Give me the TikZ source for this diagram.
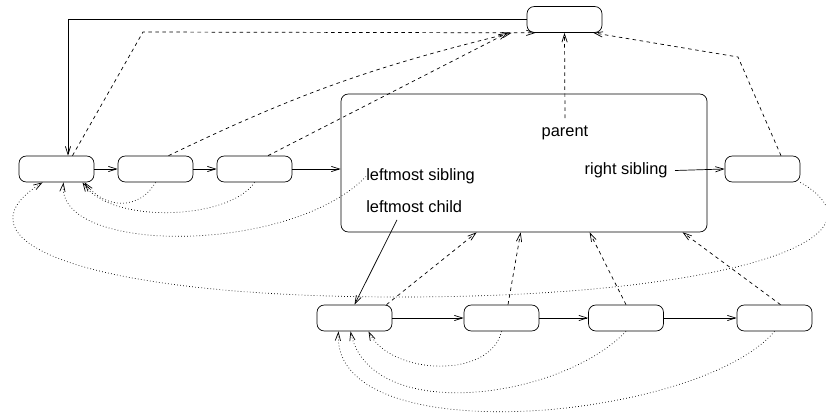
\documentclass[tikz,border=0pt]{standalone}
\usepackage{fontspec}
\setmainfont{Liberation Sans}
\usepackage{tikz}
\usetikzlibrary{arrows.meta, calc}

\tikzset{
  rec/.style={draw, rounded corners=0.22cm, minimum width=2.25cm, minimum height=0.78cm, inner sep=0pt},
  lbl/.style={font=\fontsize{14}{17}\selectfont, inner sep=0pt},
  link/.style={->},
  up/.style={->, dashed},
  back/.style={->, dotted},
}

\begin{document}
\begin{tikzpicture}[x=0.03cm, y=-0.03cm, line width=0.6pt, >={Straight Barb[length=7pt,width=4.5pt]}]
        \useasboundingbox (0,0) rectangle (826,418);

        % ===================================================
        % Boxes
        % ===================================================
        \node[rec] (parentbox) at (564.5,19.5) {};
        \node[rec] (lsib) at (56.5,169) {};
        \node[rec] (sibA) at (155.5,169) {};
        \node[rec] (sibB) at (254.5,169) {};
        \node[draw, rounded corners=0.22cm, minimum width=10.98cm, minimum height=4.14cm] (cur) at (524,163) {};
        \node[rec] (rsib) at (762.5,169) {};
        \node[rec] (lchild) at (354.5,318) {};
        \node[rec] (childA) at (501.5,318) {};
        \node[rec] (childB) at (626,318) {};
        \node[rec] (childC) at (774.5,318) {};

        % ===================================================
        % Field labels inside the current node
        % ===================================================
        \node[lbl] (lparent) at (565,133) {parent};
        \node[lbl, anchor=west] (llsib) at (366,176.5) {leftmost sibling};
        \node[lbl, anchor=west] (llchild) at (366,206.5) {leftmost child};
        \node[lbl, anchor=east] (lrsib) at (668,170.5) {right sibling};

        % ===================================================
        % Solid links
        % ===================================================
        \draw[link] (parentbox.west) -| ($(lsib.north)+(11.5,0)$);
        \draw[link] (lsib) -- (sibA);
        \draw[link] (sibA) -- (sibB);
        \draw[link] (sibB.east) -- (sibB.east -| cur.west);
        \draw[link] ($(lrsib.east)+(7,0)$) -- (rsib.west);
        \draw[link] ($(llchild.south west)+(31,7)$) -- (lchild.north);
        \draw[link] (lchild) -- (childA);
        \draw[link] (childA) -- (childB);
        \draw[link] (childB) -- (childC);

        % ===================================================
        % Parent pointers (dashed)
        % ===================================================
        \coordinate (kneeL) at (143,32);
        \coordinate (kneeR) at (738,57);
        \draw[up] ($(lsib.north)+(16,0)$) -- (kneeL) -- ($(parentbox.south west)+(9,0)$);
        \draw[up] ($(sibA.north)+(13,0)$) to[bend left=6] ($(parentbox.south west)+(-15,0)$);
        \draw[up] ($(sibB.north)+(13.5,0)$) -- ($(parentbox.south west)+(-19,0)$);
        \draw[up] ($(lparent)+(0,-15)$) -- (parentbox.south);
        \draw[up] ($(rsib.north)+(18.5,0)$) -- (kneeR) -- ($(parentbox.south east)+(-9,0)$);

        \draw[up] ($(lchild.north)+(32,0)$) -- ($(cur.south west)+(136,0)$);
        \draw[up] ($(childA.north)+(6.5,0)$) -- ($(cur.south west)+(180,0)$);
        \draw[up] (childB.north) -- ($(cur.south west)+(249,0)$);
        \draw[up] ($(childC.north)+(6,0)$) -- ($(cur.south west)+(342,0)$);

        % ===================================================
        % Leftmost sibling pointers (dotted)
        % ===================================================
        \coordinate (loopbot) at (400,297);
        \draw[back] (sibA.south) .. controls (140,210) and (105,210) .. ($(lsib.south)+(28,0)$);
        \draw[back] (sibB.south) .. controls (230,220) and (110,225) .. ($(lsib.south)+(26,0)$);
        \draw[back] (llsib.west) .. controls (290,255) and (55,255) .. ($(lsib.south)+(7,0)$);
        \draw[back] (rsib.south east) .. controls (900,240) and (720,297) .. (loopbot)
            .. controls (80,297) and (-50,240) .. ($(lsib.south west)+(24,0)$);

        \draw[back] (childA.south) .. controls (490,380) and (390,375) .. ($(lchild.south)+(14,0)$);
        \draw[back] (childB.south) .. controls (560,400) and (370,425) .. ($(lchild.south)+(-4,0)$);
        \draw[back] (childC.south) .. controls (700,420) and (330,455) .. ($(lchild.south)+(-16,0)$);

\end{tikzpicture}
\end{document}
